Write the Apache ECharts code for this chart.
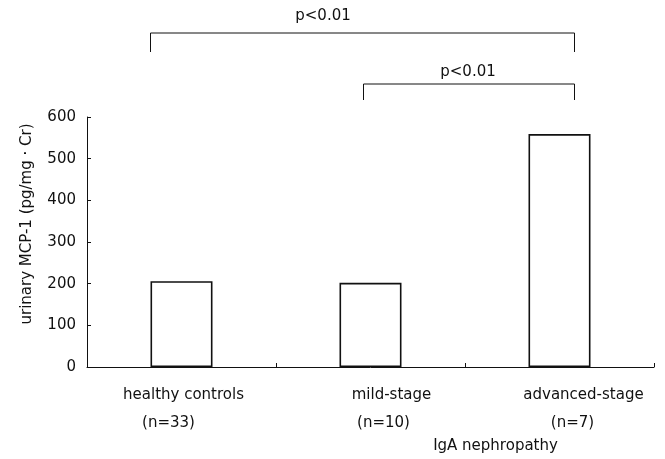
<!DOCTYPE html>
<html><head><meta charset="utf-8">
<script src="https://cdn.jsdelivr.net/npm/echarts@6/dist/echarts.min.js"></script>
<style>html,body{margin:0;padding:0;background:#fff}#c{width:665px;height:459px}</style>
</head><body><div id="c"></div>
<script>
const categories = ['healthy controls', 'mild-stage', 'advanced-stage'];
const sampleSizes = ['(n=33)', '(n=10)', '(n=7)'];
const mcp1Values = [206, 202, 559];
const yTicks = [0, 100, 200, 300, 400, 500, 600];
const yAxisTitle = 'urinary MCP-1 (pg/mg \u00b7 Cr)';
const groupLabel = 'IgA nephropathy';
const comparisons = [[0, 2], [1, 2]];
const pLabels = ['p<0.01', 'p<0.01'];

const FONT = 'DejaVu Sans';
const chart = echarts.init(document.getElementById('c'), null, {renderer: 'canvas'});

// per-category label shift (pixels) for line 1 and line 2
const shift1 = [2, 21, 24];
const shift2 = [-13, 13, 13];
const rich = {};
categories.forEach((c, i) => {
  const s1 = shift1[i], s2 = shift2[i];
  rich['a' + i] = {fontFamily: FONT, fontSize: 15, color: '#111', lineHeight: 28,
    padding: s1 >= 0 ? [0, 0, 0, 2 * s1] : [0, -2 * s1, 0, 0]};
  rich['b' + i] = {fontFamily: FONT, fontSize: 15, color: '#111', lineHeight: 28,
    padding: s2 >= 0 ? [0, 0, 0, 2 * s2] : [0, -2 * s2, 0, 0]};
});

chart.setOption({
  animation: false,
  backgroundColor: '#fff',
  grid: {left: 87, right: 11, top: 117, bottom: 92, containLabel: false},
  xAxis: {
    type: 'category',
    data: categories,
    boundaryGap: true,
    axisLine: {show: true, lineStyle: {color: '#111', width: 1}},
    axisTick: {show: true, inside: true, length: 4, interval: 0, lineStyle: {color: '#111'}},
    axisLabel: {
      interval: 0, margin: 14,
      formatter: (v, i) => '{a' + i + '|' + v + '}\n{b' + i + '|' + sampleSizes[i] + '}',
      rich: rich
    },
    name: groupLabel,
    nameLocation: 'middle',
    nameGap: 72,
    nameTextStyle: {fontFamily: FONT, fontSize: 15, color: '#111', padding: [0, 0, 0, 250]},
    splitLine: {show: false}
  },
  yAxis: {
    type: 'value',
    min: yTicks[0], max: yTicks[yTicks.length - 1], interval: yTicks[1] - yTicks[0],
    axisLine: {show: true, lineStyle: {color: '#111', width: 1}},
    axisTick: {show: true, inside: true, length: 4, lineStyle: {color: '#111'}},
    axisLabel: {fontFamily: FONT, fontSize: 15, color: '#111', margin: 11},
    splitLine: {show: false},
    name: yAxisTitle,
    nameLocation: 'middle',
    nameGap: 52,
    nameRotate: 90,
    nameTextStyle: {fontFamily: FONT, fontSize: 15, color: '#111', padding: [0, 0, 0, 36]}
  },
  series: [{
    type: 'bar',
    data: mcp1Values,
    barWidth: 62,
    itemStyle: {color: '#fff', borderColor: '#111', borderWidth: 1.6},
    silent: true
  }]
});

// significance brackets, anchored on the category positions
const px = i => chart.convertToPixel({xAxisIndex: 0}, i);
const bracketStyle = [
  {y: 33, drop: 19, l: -31, r: 15, textX: 323, textY: 16},
  {y: 84, drop: 16, l: -7, r: 15, textX: 468, textY: 72}
];
const graphics = [];
comparisons.forEach((cmp, k) => {
  const st = bracketStyle[k];
  const x1 = px(cmp[0]) + st.l, x2 = px(cmp[1]) + st.r;
  graphics.push({
    type: 'polyline', silent: true,
    shape: {points: [[x1, st.y + st.drop], [x1, st.y], [x2, st.y], [x2, st.y + st.drop]]},
    style: {stroke: '#111', lineWidth: 1, fill: null}
  });
  graphics.push({
    type: 'text', silent: true, x: st.textX, y: st.textY,
    style: {text: pLabels[k], font: '15px "' + FONT + '"', fill: '#111', align: 'center', verticalAlign: 'middle'}
  });
});
chart.setOption({graphic: graphics});
</script></body></html>
